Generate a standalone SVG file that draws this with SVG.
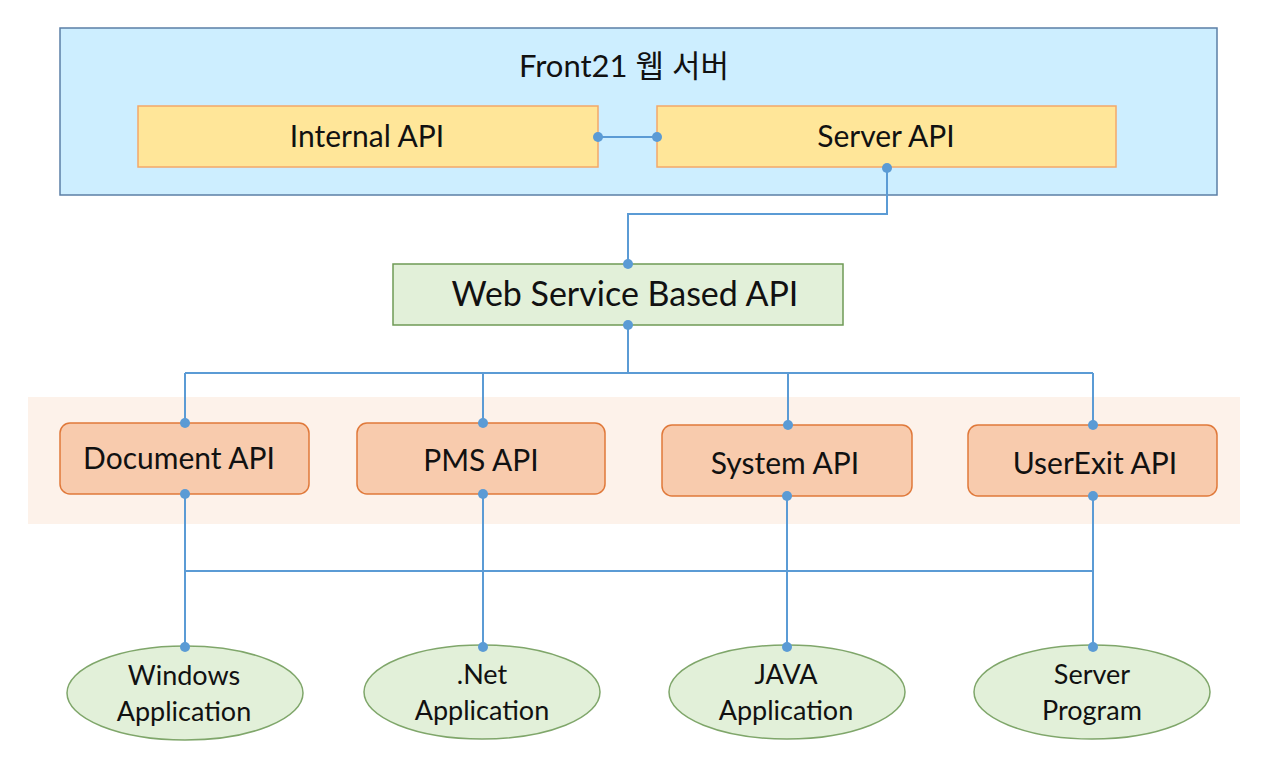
<svg xmlns="http://www.w3.org/2000/svg" width="1265" height="765" viewBox="0 0 1265 765">
<style>
text{font-family:Lato,"Noto Sans CJK KR",sans-serif;fill:#111;text-anchor:middle}
.lbl{font-size:30px}
.lbl2{font-size:27px}
.box{fill:#ffe699;stroke:#f4a86a;stroke-width:1.5}
.api{fill:#f8cbad;stroke:#e0793a;stroke-width:1.5}
.ell{fill:#e2f0d9;stroke:#7fa66a;stroke-width:1.5}
.conn path{fill:none;stroke:#5b9bd5;stroke-width:2}
.conn circle{fill:#5b9bd5}
</style>
<rect width="1265" height="765" fill="#fff"/>
<g id="front21">
<rect x="60" y="28" width="1157" height="167" fill="#cdeeff" stroke="#5b7fa6" stroke-width="1.5"/>
<text x="624" y="77" style="font-size:31px">Front21 웹 서버</text>
</g>
<rect id="band" x="28" y="397" width="1212" height="127" fill="#fdf2ea"/>
<g id="internal"><rect class="box" x="138" y="106" width="460" height="61"/><text class="lbl" x="367" y="147">Internal API</text></g>
<g id="server"><rect class="box" x="657" y="106" width="459" height="61"/><text class="lbl" x="886" y="147">Server API</text></g>
<g id="webservice"><rect x="393" y="264" width="450" height="61" fill="#e2f0d9" stroke="#6f9a56" stroke-width="1.5"/><text x="625" y="306" style="font-size:34px">Web Service Based API</text></g>
<g id="document"><rect class="api" x="60" y="423" width="249" height="71" rx="10"/><text class="lbl" x="179" y="469">Document API</text></g>
<g id="pms"><rect class="api" x="357" y="423" width="248" height="71" rx="10"/><text class="lbl" x="481" y="471">PMS API</text></g>
<g id="system"><rect class="api" x="662" y="425" width="250" height="71" rx="10"/><text class="lbl" x="785" y="474">System API</text></g>
<g id="userexit"><rect class="api" x="968" y="425" width="249" height="71" rx="10"/><text class="lbl" x="1095" y="474">UserExit API</text></g>
<g id="windows"><ellipse class="ell" cx="185" cy="693" rx="118" ry="47"/><text class="lbl2" x="184" y="685">Windows</text><text class="lbl2" x="184" y="721">Application</text></g>
<g id="dotnet"><ellipse class="ell" cx="482" cy="692" rx="118" ry="47"/><text class="lbl2" x="482" y="684">.Net</text><text class="lbl2" x="482" y="720">Application</text></g>
<g id="java"><ellipse class="ell" cx="787" cy="692" rx="118" ry="47"/><text class="lbl2" x="786" y="684">JAVA</text><text class="lbl2" x="786" y="720">Application</text></g>
<g id="serverprogram"><ellipse class="ell" cx="1092" cy="692" rx="118" ry="47"/><text class="lbl2" x="1092" y="684">Server</text><text class="lbl2" x="1092" y="720">Program</text></g>
<g class="conn" id="connectors">
<path d="M598 137H657"/>
<path d="M887 168V214H628V264"/>
<path d="M628 325V373M185 373H1093M185 373V423M483 373V423M788 373V425M1093 373V425"/>
<path d="M185 494V647M483 494V647M787 496V647M1093 496V647M185 571H1093"/>
<circle cx="598" cy="137" r="5"/><circle cx="657" cy="137" r="5"/>
<circle cx="887" cy="168" r="5"/><circle cx="628" cy="264" r="5"/><circle cx="628" cy="325" r="5"/>
<circle cx="185" cy="423" r="5"/><circle cx="483" cy="423" r="5"/><circle cx="788" cy="425" r="5"/><circle cx="1093" cy="425" r="5"/>
<circle cx="185" cy="494" r="5"/><circle cx="483" cy="494" r="5"/><circle cx="787" cy="496" r="5"/><circle cx="1093" cy="496" r="5"/>
<circle cx="185" cy="647" r="5"/><circle cx="483" cy="647" r="5"/><circle cx="787" cy="647" r="5"/><circle cx="1093" cy="647" r="5"/>
</g>
</svg>
